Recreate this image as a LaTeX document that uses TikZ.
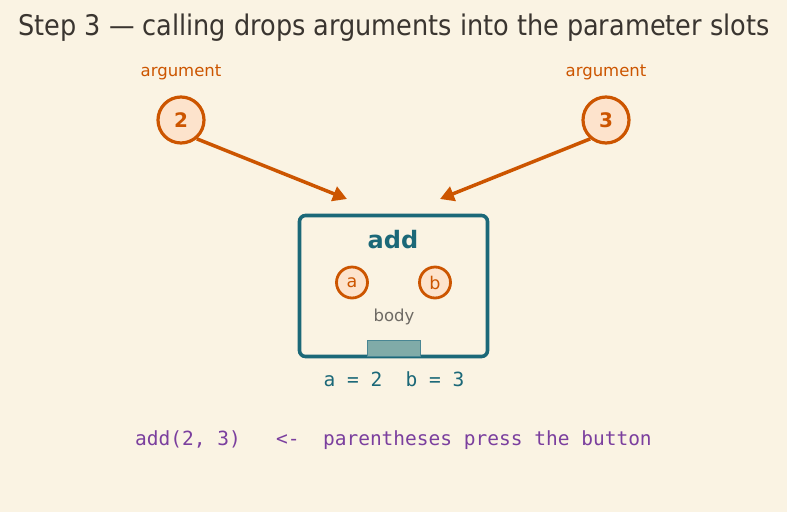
\documentclass[tikz,border=0pt]{standalone}
\usepackage{fontspec}
\setmainfont{DejaVu Sans}
\newfontfamily\condfont{DejaVu Sans Condensed}
\setmonofont{DejaVu Sans Mono}
\usetikzlibrary{arrows.meta}
\definecolor{bg}{HTML}{FAF3E3}
\definecolor{org}{HTML}{CC5500}
\definecolor{peach}{HTML}{FDE3CC}
\definecolor{teal}{HTML}{1B6878}
\definecolor{slot}{HTML}{80ABA8}
\definecolor{txtdark}{HTML}{3A3530}
\definecolor{graytxt}{HTML}{6E6A64}
\definecolor{purp}{HTML}{7B3F9E}
\tikzset{
  argcirc/.style={circle, draw=org, fill=peach, line width=3.2pt, minimum size=46pt, inner sep=0pt, text=org, font=\fontsize{20}{24}\selectfont\bfseries},
  paramcirc/.style={circle, draw=org, fill=peach, line width=2.8pt, minimum size=31pt, inner sep=0pt, text=org, font=\fontsize{17.5}{20}\selectfont},
  arglabel/.style={text=org, font=\fontsize{16.5}{20}\selectfont},
  arr/.style={draw=org, line width=3.5pt, -{Triangle[length=14pt,width=15pt]}},
}
\begin{document}
\begin{tikzpicture}[x=1pt,y=-1pt]
\fill[bg] (0,0) rectangle (787,512);
\useasboundingbox (0,0) rectangle (787,512);
\node[text=txtdark, font=\condfont\fontsize{28.4}{32}\selectfont] (title) at (394,27.5) {Step 3 — calling drops arguments into the parameter slots};
\node[arglabel] (l2) at (181,72) {argument};
\node[arglabel] (l3) at (606,72) {argument};
\node[argcirc] (c2) at (181,120) {2};
\node[argcirc] (c3) at (606,120) {3};
\node[draw=teal, line width=3.6pt, rounded corners=6pt, minimum width=188pt, minimum height=141pt, inner sep=0pt] (box) at (393.5,286) {};
\coordinate (t2) at (347,199);
\coordinate (t3) at (440,199);
\draw[arr] (c2.-50) -- (t2);
\draw[arr] (c3.-130) -- (t3);
\node[text=teal, font=\fontsize{24}{28}\selectfont\bfseries] (add) at (393,240) {add};
\node[paramcirc] (pa) at (352,282.5) {a};
\node[paramcirc] (pb) at (435,282.5) {b};
\node[text=graytxt, font=\fontsize{16.5}{20}\selectfont] (body) at (394,317) {body};
\node[draw=teal!80, fill=slot, line width=0.8pt, minimum width=53pt, minimum height=16pt, inner sep=0pt] (btn) at (393.5,348) {};
\node[text=teal, font=\ttfamily\fontsize{19.5}{22}\selectfont] (vals) at (394,379) {a = 2\ \ b = 3};
\node[text=purp, font=\ttfamily\fontsize{19.5}{22}\selectfont] (call) at (393.5,440) {add(2, 3)\ \ \ <-\ \ parentheses press the button};
\end{tikzpicture}
\end{document}
